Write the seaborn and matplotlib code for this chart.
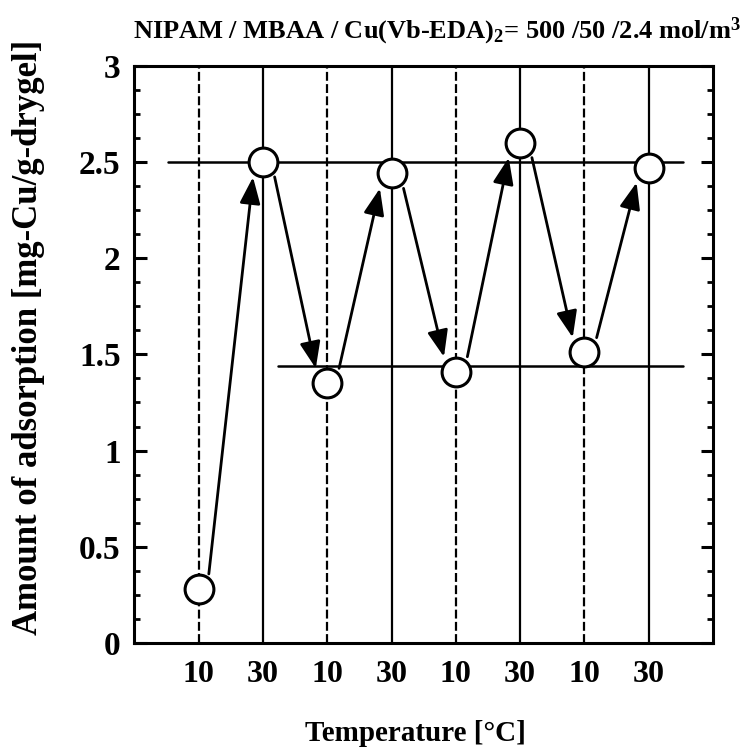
import numpy as np
import pandas as pd
import seaborn as sns
import matplotlib.pyplot as plt
from matplotlib.ticker import MultipleLocator, FixedLocator, NullLocator

# Data
step = [1, 2, 3, 4, 5, 6, 7, 8]
temps = [10, 30, 10, 30, 10, 30, 10, 30]
amount = [0.28, 2.50, 1.35, 2.44, 1.41, 2.60, 1.51, 2.47]
yticks = [0, 0.5, 1, 1.5, 2, 2.5, 3]
ytick_labels = ["0", "0.5", "1", "1.5", "2", "2.5", "3"]

# guide lines: level and where they start / stop on the x axis
guide_levels = [2.5, 1.44]
guide_start = [0.52, 2.24]
guide_end = 8.54

df = pd.DataFrame({"step": step, "temp": temps, "amount": amount})

sns.set_theme(style="ticks")
plt.rcParams["font.family"] = ["Liberation Serif", "DejaVu Serif"]
plt.rcParams["font.weight"] = "bold"
plt.rcParams["text.color"] = "black"
plt.rcParams["axes.labelcolor"] = "black"
plt.rcParams["xtick.color"] = "black"
plt.rcParams["ytick.color"] = "black"
plt.rcParams["mathtext.fontset"] = "custom"
plt.rcParams["mathtext.rm"] = "Liberation Serif:bold"
plt.rcParams["mathtext.it"] = "Liberation Serif:bold"
plt.rcParams["mathtext.bf"] = "Liberation Serif:bold"

fig = plt.figure(figsize=(7.53, 7.47), dpi=100)
ax = fig.add_axes([0.1786, 0.1392, 0.7683, 0.7728])

# vertical lines: dashed for 10 degC, solid for 30 degC
for s, t in zip(step, temps):
    ax.axvline(s, color="black", lw=1.6, ls=(0, (4, 1.5)) if t == 10 else "-", zorder=1)

# horizontal guide lines
for lvl, x0 in zip(guide_levels, guide_start):
    ax.plot([x0, guide_end], [lvl, lvl], color="black", lw=1.8, zorder=1)

# arrows between consecutive measurements
off = 0.13
for i in range(len(step) - 1):
    ax.annotate(
        "",
        xy=(step[i + 1] - off, amount[i + 1]),
        xytext=(step[i] + off, amount[i]),
        arrowprops=dict(
            arrowstyle="-|>,head_length=0.9,head_width=0.35",
            color="black",
            lw=2,
            shrinkA=11,
            shrinkB=11,
            mutation_scale=18,
        ),
        zorder=2,
    )

sns.scatterplot(
    data=df,
    x="step",
    y="amount",
    marker="o",
    s=430,
    facecolor="white",
    edgecolor="black",
    linewidth=2.2,
    ax=ax,
    zorder=3,
    legend=False,
)

ax.set_xlim(0, 9)
ax.set_ylim(0, 3)
ax.xaxis.set_major_locator(FixedLocator(step))
ax.set_xticklabels([str(t) for t in temps])
ax.xaxis.set_minor_locator(NullLocator())
ax.set_yticks(yticks)
ax.set_yticklabels(ytick_labels)
ax.yaxis.set_minor_locator(MultipleLocator(0.125))

ax.tick_params(axis="x", length=0, pad=12, labelsize=23)
ax.tick_params(axis="y", which="major", direction="in", length=9, width=2.2,
               right=True, pad=10, labelsize=24)
ax.tick_params(axis="y", which="minor", direction="in", length=4.5, width=2,
               right=True)
for sp in ax.spines.values():
    sp.set_linewidth(2.2)
    sp.set_color("black")

ax.set_xlabel("Temperature [°C]", fontsize=21, fontweight="bold")
ax.set_ylabel("Amount of adsorption [mg-Cu/g-drygel]", fontsize=25, fontweight="bold")
ax.xaxis.set_label_coords(0.485, -0.133)
ax.yaxis.set_label_coords(-0.155, 0.53)

fig.text(0.177, 0.958, r"NIPAM / MBAA / Cu(Vb-EDA)$_2$= 500 /50 /2.4 mol/m$^3$",
         fontsize=19, fontweight="bold", ha="left", va="center")

fig.savefig("out.png", dpi=100, facecolor="white")
